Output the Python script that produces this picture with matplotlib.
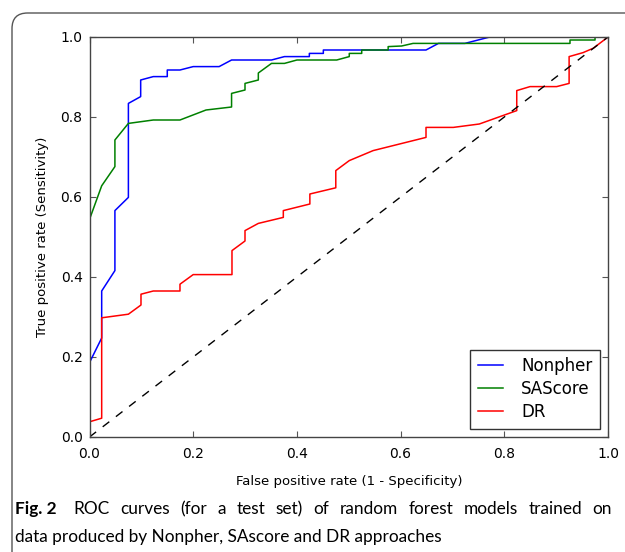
import matplotlib
matplotlib.use('Agg')
import matplotlib.pyplot as plt
from matplotlib.patches import FancyBboxPatch

# ROC points
nonpher_fpr = [0, 0.0235, 0.0235, 0.049, 0.049, 0.075, 0.075, 0.0987, 0.0987, 0.123, 0.150, 0.150,
               0.1745, 0.200, 0.250, 0.274, 0.351, 0.376, 0.424, 0.424, 0.451, 0.451, 0.649, 0.673,
               0.724, 0.772, 1.0]
nonpher_tpr = [0.186, 0.2475, 0.365, 0.416, 0.566, 0.599, 0.834, 0.851, 0.8925, 0.901, 0.901, 0.9175,
               0.9175, 0.926, 0.926, 0.9425, 0.9425, 0.951, 0.951, 0.959, 0.959, 0.9675, 0.9675, 0.984,
               0.984, 1.0, 1.0]

sascore_fpr = [0, 0.0235, 0.049, 0.049, 0.075, 0.123, 0.1745, 0.2247, 0.274, 0.274, 0.2999, 0.2999,
               0.3256, 0.3256, 0.351, 0.376, 0.400, 0.4768, 0.501, 0.501, 0.525, 0.525, 0.576, 0.576,
               0.602, 0.624, 0.9267, 0.9267, 0.975, 0.975, 1.0]
sascore_tpr = [0.544, 0.628, 0.676, 0.7425, 0.784, 0.7925, 0.7925, 0.8175, 0.825, 0.859, 0.8675, 0.884,
               0.8925, 0.910, 0.934, 0.934, 0.9425, 0.9425, 0.951, 0.959, 0.959, 0.9675, 0.9675, 0.976,
               0.9775, 0.984, 0.984, 0.9925, 0.9925, 1.0, 1.0]

dr_fpr = [0, 0.0235, 0.0235, 0.075, 0.0993, 0.0993, 0.123, 0.1745, 0.1745, 0.2, 0.2748, 0.2748, 0.2999,
          0.2999, 0.3256, 0.3738, 0.3738, 0.425, 0.425, 0.475, 0.475, 0.501, 0.547, 0.649, 0.649, 0.7017,
          0.7518, 0.824, 0.824, 0.8496, 0.901, 0.925, 0.925, 0.952, 0.9717, 1.0]
dr_tpr = [0.038, 0.047, 0.298, 0.307, 0.33, 0.357, 0.365, 0.365, 0.382, 0.406, 0.406, 0.466, 0.49,
          0.516, 0.534, 0.549, 0.566, 0.5825, 0.6075, 0.623, 0.666, 0.691, 0.716, 0.749, 0.774, 0.774,
          0.7825, 0.816, 0.866, 0.876, 0.876, 0.884, 0.951, 0.961, 0.972, 1.0]

ticks = [0.0, 0.2, 0.4, 0.6, 0.8, 1.0]

caption_tag = 'Fig. 2'
caption_line1 = 'ROC curves (for a test set) of random forest models trained on'
caption_line2 = 'data produced by Nonpher, SAscore and DR approaches'

W, H = 625, 552
fig = plt.figure(figsize=(W / 100, H / 100), dpi=100)

# rounded journal frame, running off the right and bottom edges
frame = FancyBboxPatch((12 / W, -0.1), 1.2, 1 - 13 / H + 0.1,
                       boxstyle='round,pad=0,rounding_size=0.025',
                       transform=fig.transFigure, fill=False, edgecolor='#555555',
                       linewidth=1.0, mutation_aspect=W / H)
fig.patches.append(frame)

ax = fig.add_axes([89.5 / W, 115 / H, 518.5 / W, 400 / H])
ax.plot(nonpher_fpr, nonpher_tpr, color='#0000ff', lw=1.1, label='Nonpher')
ax.plot(sascore_fpr, sascore_tpr, color='#008000', lw=1.1, label='SAScore')
ax.plot(dr_fpr, dr_tpr, color='#ff0000', lw=1.1, label='DR')
ax.plot([0, 1], [0, 1], color='black', lw=1.0, linestyle=(0, (6, 6)))

ax.set_xlim(0, 1)
ax.set_ylim(0, 1)
ax.set_xticks(ticks)
ax.set_yticks(ticks)
ax.tick_params(direction='in', length=4, width=0.8, top=True, right=True, labelsize=10,
               color='#555555')
ax.tick_params(axis='x', pad=7)
ax.tick_params(axis='y', pad=5)
for sp in ax.spines.values():
    sp.set_color('#444444')
    sp.set_linewidth(1.0)

ax.set_xlabel('False positive rate (1 - Specificity)', fontsize=9.5, labelpad=10)
ax.set_ylabel('True positive rate (Sensitivity)', fontsize=9.5, labelpad=8)

leg = ax.legend(loc='lower right', fontsize=12, fancybox=False, edgecolor='black',
                handlelength=1.5, borderaxespad=0.5, handletextpad=1.1, labelspacing=0.3,
                borderpad=0.45)
leg.get_frame().set_linewidth(1.0)

# caption: first line justified to the right margin, second line ragged
cap_font = dict(fontsize=12.4, family='Lato', va='center', ha='left')
renderer = fig.canvas.get_renderer()
y1 = 1 - 509 / H
y2 = 1 - 537 / H
words = [(caption_tag, 'bold')] + [(w, 'normal') for w in caption_line1.split()]
widths = []
for w, wt in words:
    t = fig.text(0, 0, w, fontweight=wt, **cap_font)
    widths.append(t.get_window_extent(renderer).width)
    t.remove()
left, right = 15, 612
gap = (right - left - sum(widths) - 6) / (len(words) - 1)
x = left
for i, (w, wt) in enumerate(words):
    fig.text(x / W, y1, w, fontweight=wt, **cap_font)
    x += widths[i] + gap + (6 if i == 0 else 0)
fig.text(left / W, y2, caption_line2, **cap_font)

fig.savefig('out.png', dpi=100)
